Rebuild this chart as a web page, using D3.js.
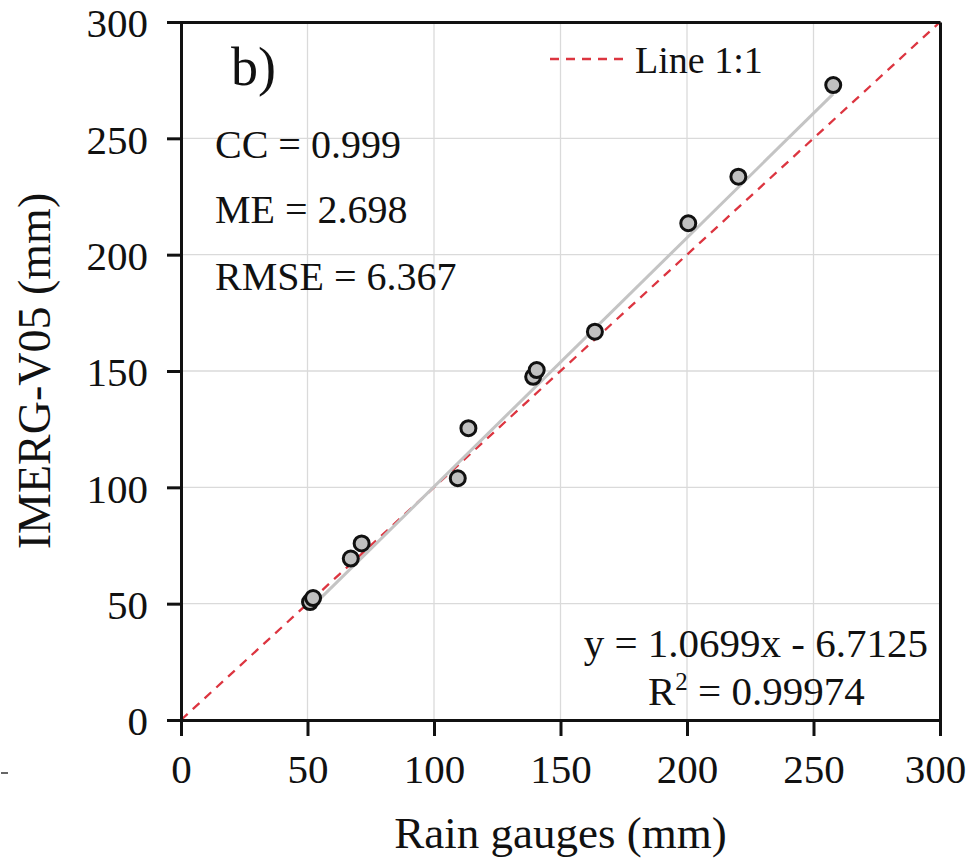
<!DOCTYPE html>
<html><head><meta charset="utf-8">
<script src="https://cdn.jsdelivr.net/npm/d3@7"></script>
<style>body{margin:0;background:#fff}svg text{font-family:"Liberation Serif","Times New Roman",serif;fill:#111}</style>
</head><body>
<svg id="c" width="967" height="860"></svg>
<script>
const gauges = [51.0, 52.2, 67.1, 71.4, 109.4, 113.6, 139.2, 140.6, 163.6, 200.5, 220.3, 257.8];
const imerg  = [50.7, 52.4, 69.4, 75.9, 103.9, 125.4, 147.5, 150.4, 166.9, 213.5, 233.5, 272.9];
const tickValues = [0, 50, 100, 150, 200, 250, 300];
const slope = 1.0699, intercept = -6.7125;
const statLabels = ["CC = 0.999", "ME = 2.698", "RMSE = 6.367"];

const svg = d3.select("#c");
const L = 181, R = 940, T = 22, B = 720;
const x = d3.scaleLinear().domain([0, 300]).range([L, R]);
const y = d3.scaleLinear().domain([0, 300]).range([B, T]);

// grid
svg.append("g").selectAll("line").data(tickValues.slice(1, -1)).join("line")
  .attr("x1", d => x(d)).attr("x2", d => x(d)).attr("y1", T).attr("y2", B)
  .attr("stroke", "#dadada").attr("stroke-width", 1.3);
svg.append("g").selectAll("line").data(tickValues.slice(1, -1)).join("line")
  .attr("y1", d => y(d)).attr("y2", d => y(d)).attr("x1", L).attr("x2", R)
  .attr("stroke", "#dadada").attr("stroke-width", 1.3);

// 1:1 line
svg.append("line").attr("x1", x(0)).attr("y1", y(0)).attr("x2", x(300)).attr("y2", y(300))
  .attr("stroke", "#dc3540").attr("stroke-width", 2.3).attr("stroke-dasharray", "9,7");

// regression line
const xmin = d3.min(gauges), xmax = d3.max(gauges);
svg.append("line").attr("x1", x(xmin)).attr("y1", y(slope * xmin + intercept))
  .attr("x2", x(xmax)).attr("y2", y(slope * xmax + intercept))
  .attr("stroke", "#c4c4c4").attr("stroke-width", 3);

// points
svg.append("g").selectAll("circle").data(gauges).join("circle")
  .attr("cx", (d) => x(d)).attr("cy", (d, i) => y(imerg[i])).attr("r", 7.5)
  .attr("fill", "#c0c0c0").attr("stroke", "#111").attr("stroke-width", 3);

// axes
const fmt = d3.format("d");
const xAxis = svg.append("g").attr("transform", `translate(0,${B})`)
  .call(d3.axisBottom(x).tickValues(tickValues).tickSize(16).tickFormat(fmt));
const yAxis = svg.append("g").attr("transform", `translate(${L},0)`)
  .call(d3.axisLeft(y).tickValues(tickValues).tickSize(14).tickFormat(fmt));
svg.append("g").attr("transform", `translate(0,${T})`)
  .call(d3.axisBottom(x).tickValues([]).tickSizeOuter(0));
svg.append("g").attr("transform", `translate(${R},0)`)
  .call(d3.axisRight(y).tickValues([]).tickSizeOuter(0));
svg.selectAll(".domain").attr("stroke", "#111").attr("stroke-width", 3);
svg.selectAll(".tick line").attr("stroke", "#111").attr("stroke-width", 3);
svg.selectAll(".tick text").style("font-family", "Liberation Serif").style("font-size", "41px").attr("fill", "#111");
xAxis.selectAll(".tick text").attr("y", 63).attr("dy", 0)
  .attr("x", d => d === 300 ? -5 : 0);
yAxis.selectAll(".tick text").attr("x", -33).attr("dy", "0.36em");

// axis titles
svg.append("text").attr("x", (L + R) / 2).attr("y", 848).attr("text-anchor", "middle")
  .style("font-size", "45px").text("Rain gauges (mm)");
svg.append("text").attr("transform", `translate(50,${(T + B) / 2}) rotate(-90)`).attr("text-anchor", "middle")
  .style("font-size", "46px").text("IMERG-V05 (mm)");

// small stray mark at left edge
svg.append("line").attr("x1", 1).attr("x2", 8).attr("y1", 773).attr("y2", 773).attr("stroke", "#333").attr("stroke-width", 1.5);

// panel label
svg.append("text").attr("x", 231).attr("y", 85).style("font-size", "54px").text("b)");

// stats
const statY = [158, 223, 290];
svg.append("g").selectAll("text").data(statLabels).join("text")
  .attr("x", 215).attr("y", (d, i) => statY[i]).style("font-size", "40px").text(d => d);

// legend
svg.append("line").attr("x1", 550).attr("x2", 624).attr("y1", 59).attr("y2", 59)
  .attr("stroke", "#dc3540").attr("stroke-width", 2.3).attr("stroke-dasharray", "9,7");
svg.append("text").attr("x", 635).attr("y", 73).style("font-size", "38px").text("Line 1:1");

// equation
svg.append("text").attr("x", 928).attr("y", 657).attr("text-anchor", "end").style("font-size", "41px")
  .text(`y = ${slope}x - ${Math.abs(intercept)}`);
const r2 = svg.append("text").attr("x", 648).attr("y", 705).style("font-size", "41px");
r2.append("tspan").text("R");
r2.append("tspan").attr("dy", -15).style("font-size", "25px").text("2");
r2.append("tspan").attr("dy", 15).text(" = 0.99974");
</script>
</body></html>
